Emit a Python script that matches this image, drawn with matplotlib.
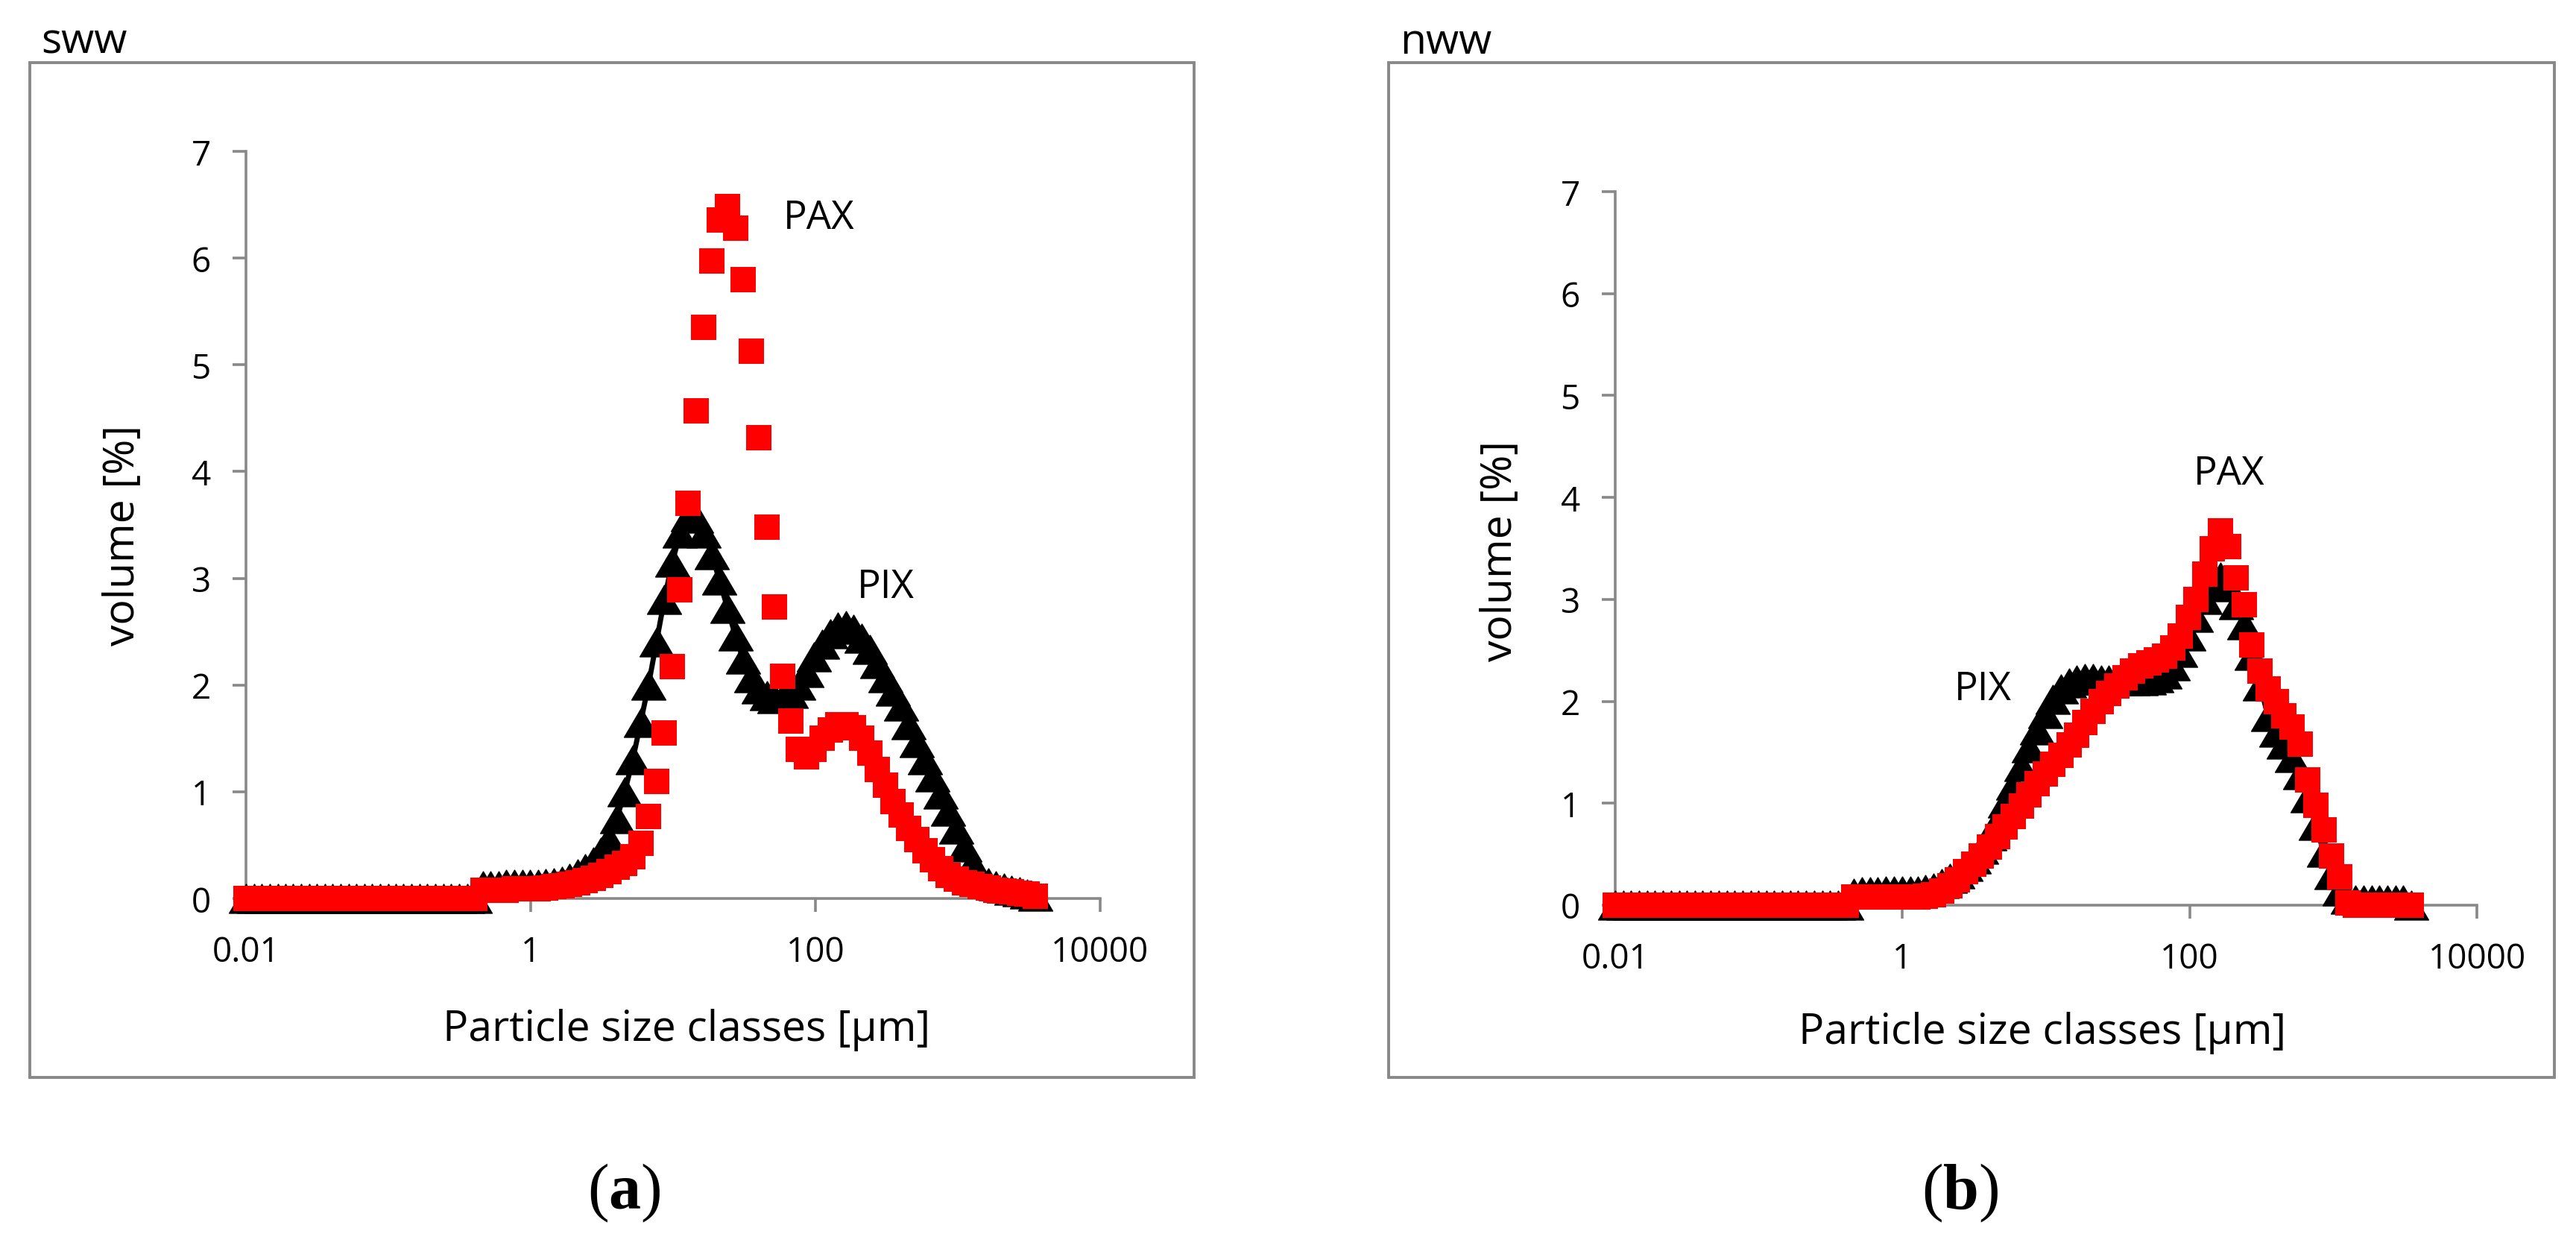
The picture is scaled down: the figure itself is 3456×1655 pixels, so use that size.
import numpy as np
import matplotlib
matplotlib.use('Agg')
import matplotlib.pyplot as plt
from matplotlib.patches import Rectangle
from matplotlib.path import Path
from matplotlib.ticker import NullLocator

plt.rcParams['font.family'] = ['Open Sans', 'DejaVu Sans']
plt.rcParams['mathtext.fontset'] = 'custom'
plt.rcParams['mathtext.rm'] = 'Liberation Serif'
plt.rcParams['mathtext.bf'] = 'Liberation Serif:bold'

W, H, DPI = 3456, 1656, 200
GRAY = '#888888'

# particle size classes [um]
size_classes = [
    0.0100, 0.0114, 0.0129, 0.0147, 0.0167, 0.0189, 0.0215, 0.0244, 0.0278, 0.0315,
    0.0358, 0.0407, 0.0463, 0.0526, 0.0597, 0.0679, 0.0771, 0.0876, 0.0995, 0.113,
    0.128, 0.146, 0.166, 0.188, 0.214, 0.243, 0.276, 0.314, 0.357, 0.405,
    0.460, 0.523, 0.594, 0.675, 0.767, 0.872, 0.991, 1.13, 1.28, 1.45,
    1.65, 1.88, 2.13, 2.42, 2.75, 3.12, 3.55, 4.03, 4.58, 5.21,
    5.92, 6.72, 7.64, 8.68, 9.86, 11.2, 12.7, 14.5, 16.4, 18.7,
    21.2, 24.1, 27.4, 31.1, 35.3, 40.1, 45.6, 51.8, 58.9, 66.9,
    76.0, 86.4, 98.1, 111, 127, 144, 163, 186, 211, 240,
    272, 310, 352, 400, 454, 516, 586, 666, 756, 859,
    976, 1110, 1260, 1430, 1630, 1850, 2100, 2390, 2710, 3080,
    3500]

# (a) sww - volume [%]
sww_pix = [
    0, 0, 0, 0, 0, 0, 0, 0, 0, 0,
    0, 0, 0, 0, 0, 0, 0, 0, 0, 0,
    0, 0, 0, 0, 0, 0, 0, 0, 0, 0,
    0.12, 0.12, 0.12, 0.13, 0.13, 0.13, 0.13, 0.13, 0.14, 0.15,
    0.16, 0.19, 0.23, 0.28, 0.34, 0.43, 0.55, 0.75, 1.00, 1.30,
    1.65, 2.00, 2.40, 2.80, 3.15, 3.42, 3.58, 3.56, 3.42, 3.22,
    2.98, 2.72, 2.46, 2.24, 2.07, 1.96, 1.90, 1.87, 1.88, 1.92,
    2.00, 2.12, 2.26, 2.38, 2.48, 2.54, 2.56, 2.52, 2.44, 2.33,
    2.20, 2.07, 1.94, 1.80, 1.63, 1.46, 1.30, 1.14, 0.98, 0.82,
    0.65, 0.48, 0.32, 0.21, 0.15, 0.12, 0.10, 0.08, 0.06, 0.04,
    0.02]
sww_pax = [
    0, 0, 0, 0, 0, 0, 0, 0, 0, 0,
    0, 0, 0, 0, 0, 0, 0, 0, 0, 0,
    0, 0, 0, 0, 0, 0, 0, 0, 0, 0,
    0.08, 0.08, 0.08, 0.08, 0.09, 0.09, 0.09, 0.09, 0.10, 0.11,
    0.12, 0.13, 0.15, 0.17, 0.19, 0.22, 0.25, 0.29, 0.33, 0.39,
    0.52, 0.77, 1.10, 1.55, 2.17, 2.89, 3.70, 4.57, 5.35, 5.97,
    6.36, 6.48, 6.28, 5.80, 5.13, 4.32, 3.48, 2.73, 2.08, 1.66,
    1.40, 1.33, 1.40, 1.50, 1.58, 1.63, 1.63, 1.60, 1.50, 1.36,
    1.21, 1.06, 0.91, 0.78, 0.66, 0.55, 0.45, 0.36, 0.28, 0.22,
    0.18, 0.15, 0.13, 0.11, 0.10, 0.08, 0.07, 0.06, 0.05, 0.04,
    0.02]

# (b) nww - volume [%]
nww_pix = [
    0, 0, 0, 0, 0, 0, 0, 0, 0, 0,
    0, 0, 0, 0, 0, 0, 0, 0, 0, 0,
    0, 0, 0, 0, 0, 0, 0, 0, 0, 0,
    0.12, 0.13, 0.13, 0.13, 0.14, 0.14, 0.14, 0.14, 0.14, 0.15,
    0.17, 0.21, 0.26, 0.31, 0.38, 0.45, 0.55, 0.68, 0.83, 1.00,
    1.18, 1.36, 1.54, 1.72, 1.88, 2.02, 2.12, 2.18, 2.21, 2.22,
    2.22, 2.21, 2.21, 2.20, 2.20, 2.20, 2.20, 2.21, 2.23, 2.27,
    2.35, 2.48, 2.64, 2.82, 3.00, 3.15, 3.22, 3.12, 2.95, 2.75,
    2.45, 2.15, 1.85, 1.70, 1.58, 1.45, 1.28, 1.05, 0.78, 0.52,
    0.30, 0.14, 0.06, 0.05, 0.05, 0.05, 0.05, 0.05, 0.05, 0.05,
    0.0]
nww_pax = [
    0, 0, 0, 0, 0, 0, 0, 0, 0, 0,
    0, 0, 0, 0, 0, 0, 0, 0, 0, 0,
    0, 0, 0, 0, 0, 0, 0, 0, 0, 0,
    0.08, 0.08, 0.08, 0.08, 0.08, 0.08, 0.08, 0.08, 0.08, 0.09,
    0.10, 0.14, 0.19, 0.25, 0.33, 0.40, 0.48, 0.57, 0.67, 0.77,
    0.87, 0.97, 1.08, 1.19, 1.29, 1.38, 1.47, 1.57, 1.67, 1.79,
    1.90, 2.00, 2.08, 2.15, 2.23, 2.30, 2.35, 2.38, 2.41, 2.44,
    2.52, 2.64, 2.82, 3.00, 3.25, 3.50, 3.67, 3.52, 3.21, 2.95,
    2.55, 2.30, 2.12, 2.00, 1.86, 1.75, 1.58, 1.23, 0.98, 0.74,
    0.48, 0.28, 0.02, 0, 0, 0, 0, 0, 0, 0,
    0]

xticks = [0.01, 1, 100, 10000]
xtick_labels = ['0.01', '1', '100', '10000']


def fx(px):
    return px / W


def fy(py):
    return 1 - py / H


tri = Path([(-1, -0.85), (1, -0.85), (0, 0.85), (-1, -0.85)],
           [Path.MOVETO, Path.LINETO, Path.LINETO, Path.CLOSEPOLY])


def draw_panel(ax, pix, pax):
    ax.plot(size_classes, pix, color='black', lw=2.5, marker=tri, ms=16.5,
            mfc='black', mec='black', mew=0.5, clip_on=False, zorder=3)
    ax.plot(size_classes, pax, ls='none', marker='s', ms=11.9, color='#ff0000',
            mew=0, clip_on=False, zorder=4)
    ax.set_xscale('log')
    ax.set_xlim(0.01, 10000)
    ax.set_ylim(0, 7)
    ax.set_xticks(xticks)
    ax.set_xticklabels(xtick_labels)
    ax.xaxis.set_minor_locator(NullLocator())
    ax.set_yticks(range(8))
    for s in ['top', 'right']:
        ax.spines[s].set_visible(False)
    for s in ['left', 'bottom']:
        ax.spines[s].set_color(GRAY)
        ax.spines[s].set_linewidth(1.3)
    ax.tick_params(direction='out', length=6.5, width=1.3, color=GRAY,
                   labelsize=16.5, labelcolor='black')
    ax.tick_params(axis='y', pad=10.5)
    ax.tick_params(axis='x', pad=11)
    ax.patch.set_visible(False)


fig = plt.figure(figsize=(W / DPI, H / DPI), dpi=DPI)

# outer chart boxes
for x0, x1 in [(40, 1602), (1863, 3427)]:
    fig.add_artist(Rectangle((fx(x0), fy(1446)), (x1 - x0) / W, (1446 - 85) / H,
                             transform=fig.transFigure, fill=False, ec=GRAY, lw=1.4))

ax1 = fig.add_axes([fx(330), fy(1206), 1146 / W, 1002 / H])
draw_panel(ax1, sww_pix, sww_pax)
ax1.text(59.6, 6.28, 'PAX', fontsize=19, ha='left', va='baseline')
ax1.text(196, 2.82, 'PIX', fontsize=19, ha='left', va='baseline')

ax2 = fig.add_axes([fx(2167), fy(1215), 1156 / W, 957 / H])
draw_panel(ax2, nww_pix, nww_pax)
ax2.text(106.6, 4.13, 'PAX', fontsize=19, ha='left', va='baseline')
ax2.text(2.29, 2.02, 'PIX', fontsize=19, ha='left', va='baseline')

# panel titles
fig.text(fx(55), fy(72), 'sww', fontsize=20.5, ha='left', va='baseline')
fig.text(fx(1878), fy(72), 'nww', fontsize=20.5, ha='left', va='baseline')

# axis labels
fig.text(fx(165), fy(718), 'volume [%]', fontsize=20.5, rotation=90, ha='center', va='center')
fig.text(fx(2013), fy(739), 'volume [%]', fontsize=20.5, rotation=90, ha='center', va='center')
fig.text(fx(921), fy(1396), 'Particle size classes [µm]', fontsize=20.5, ha='center', va='baseline')
fig.text(fx(2740), fy(1400), 'Particle size classes [µm]', fontsize=20.5, ha='center', va='baseline')

# sub-figure labels
fig.text(fx(837), fy(1600), r'($\mathbf{a}$)', fontsize=31, family='Liberation Serif',
         ha='center', va='center')
fig.text(fx(2630), fy(1600), r'($\mathbf{b}$)', fontsize=31, family='Liberation Serif',
         ha='center', va='center')

fig.savefig('out.png', dpi=DPI)
